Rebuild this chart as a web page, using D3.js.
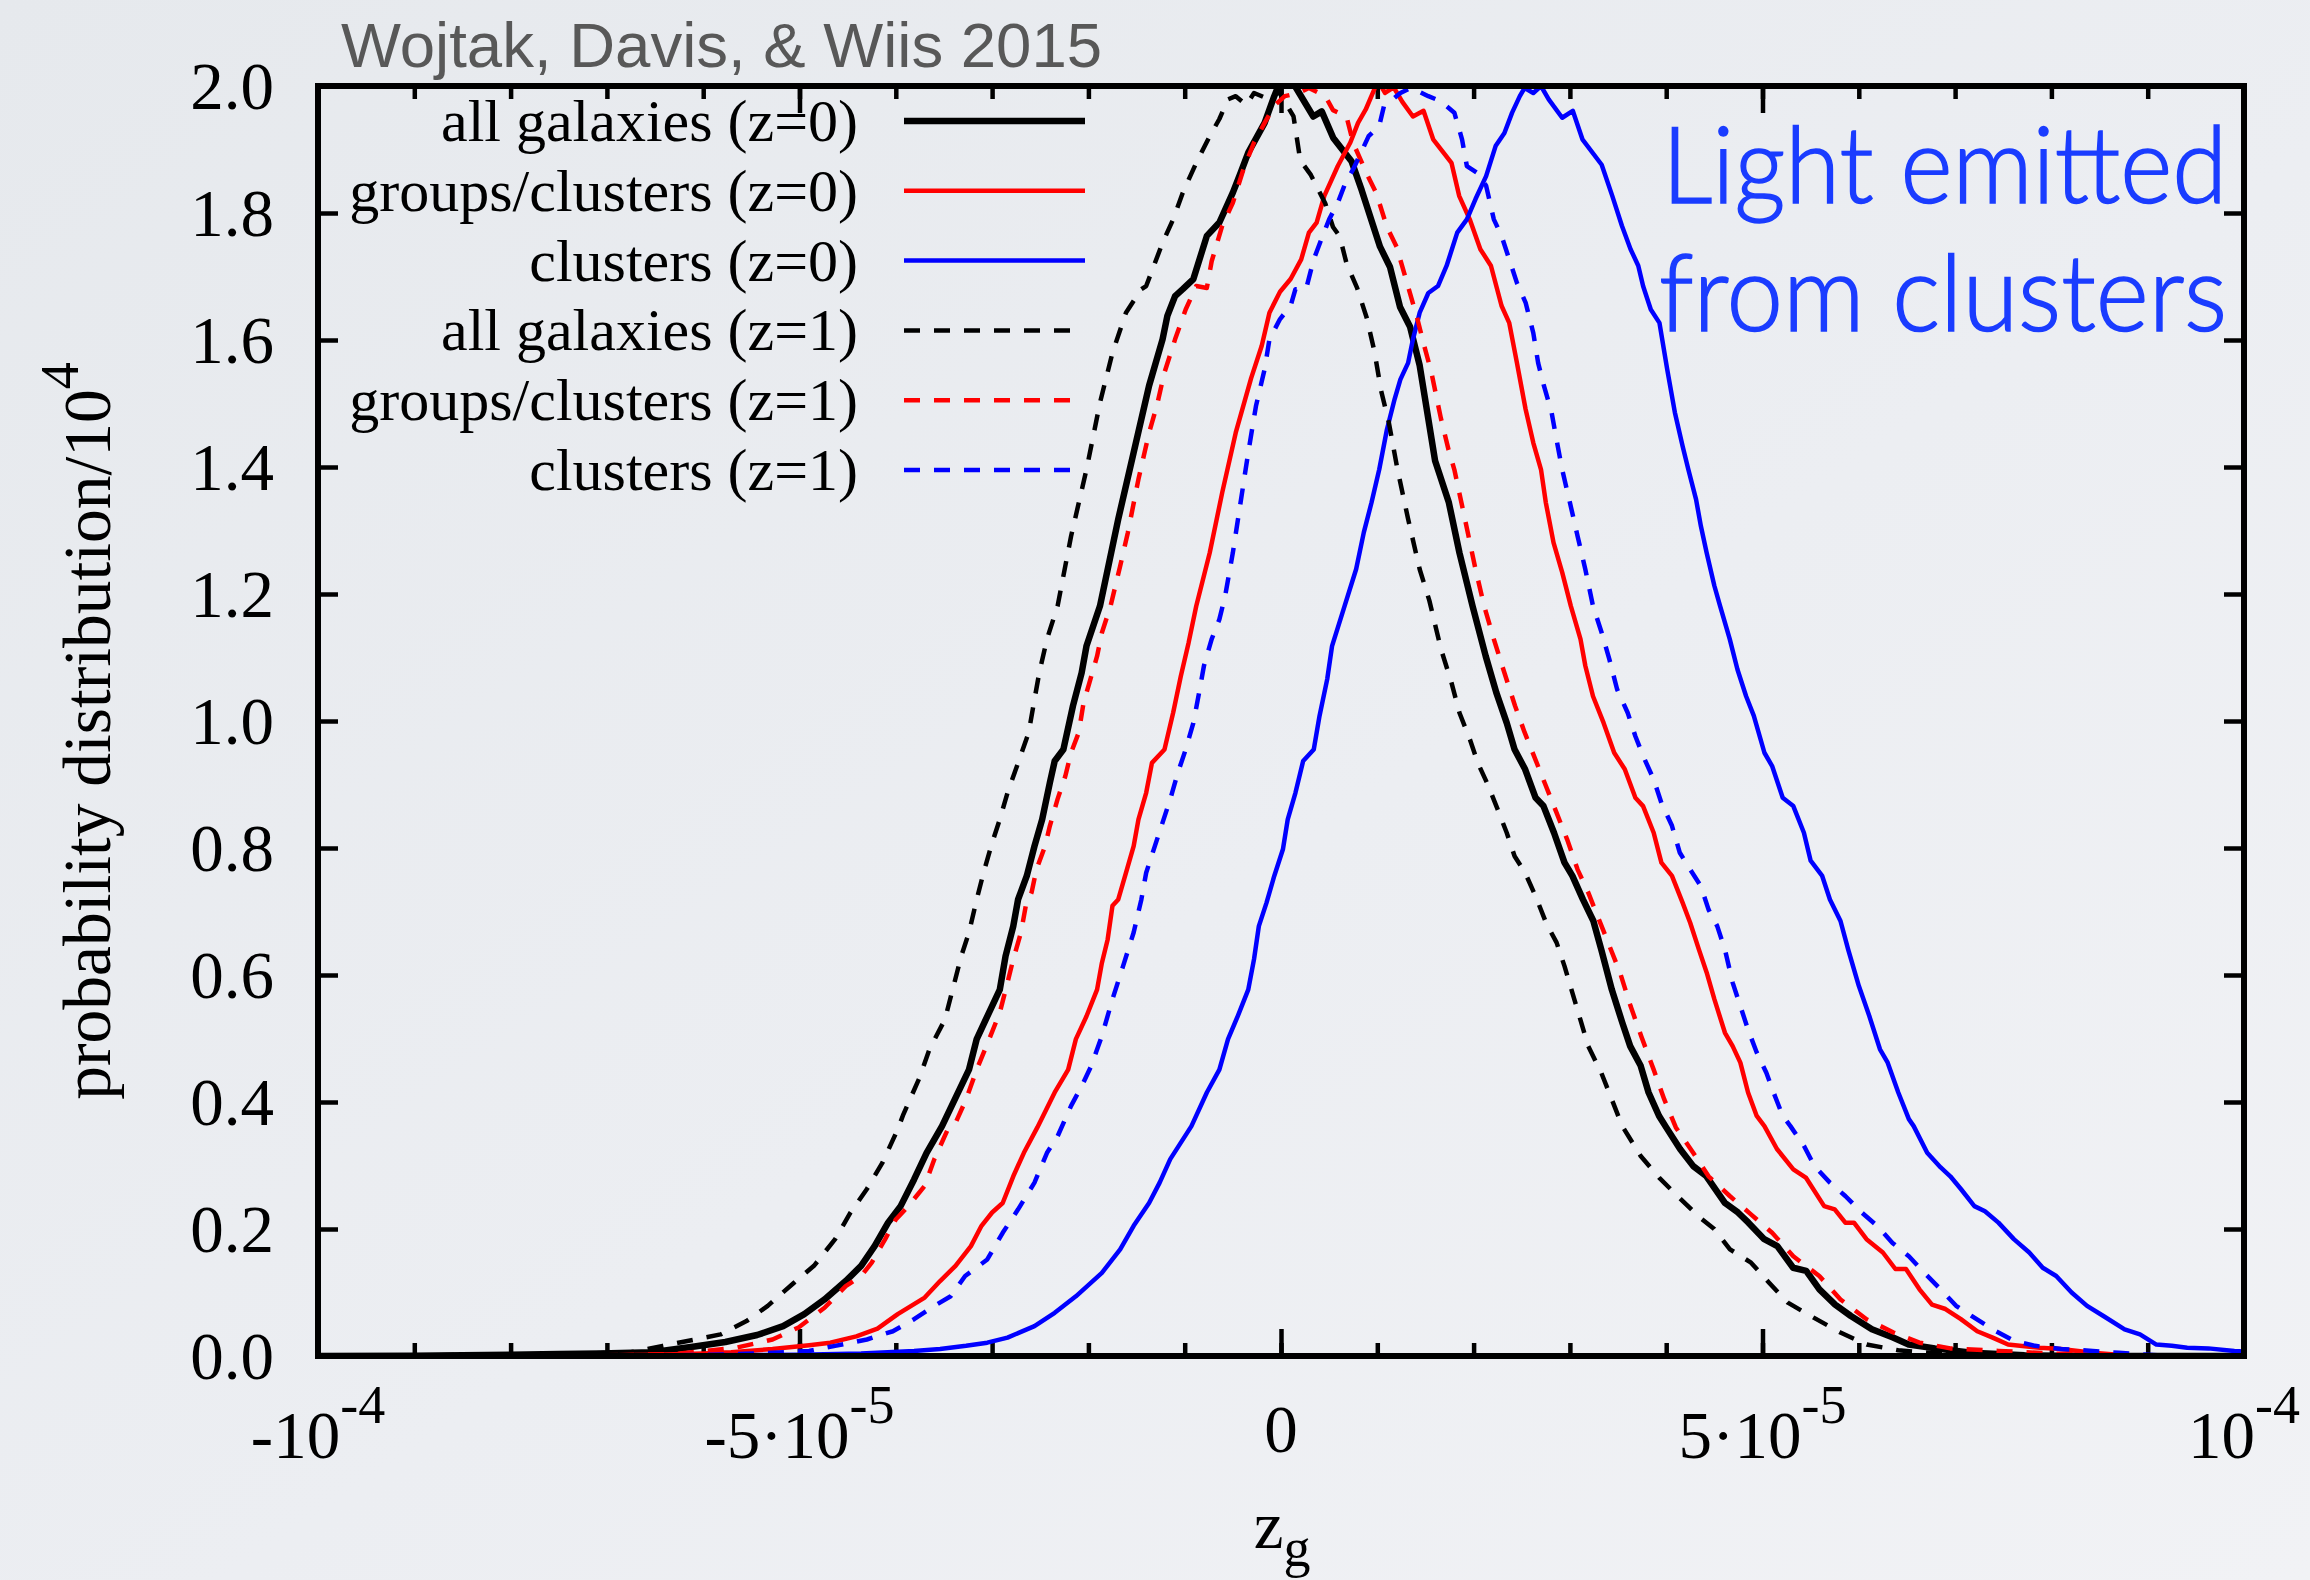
<!DOCTYPE html>
<html>
<head>
<meta charset="utf-8">
<script src="https://cdn.jsdelivr.net/npm/d3@7"></script>
<style>
  html, body { margin: 0; padding: 0; overflow: hidden; }
  svg { display: block; }
</style>
</head>
<body>
<svg id="chart" width="2310" height="1580"></svg>
<script>
// Gravitational redshift distributions. Points are [z_g / 1e-5, probability distribution / 1e4].
const ZG_UNIT = 1e-5;

const allGalaxiesZ0 = [
  [-10,0],[-9,0.0005],[-8,0.002],[-7.5,0.003],[-7.07,0.004],[-6.53,0.006],[-6.09,0.015],[-5.77,0.022],
  [-5.44,0.033],[-5.17,0.047],[-4.95,0.066],[-4.74,0.089],[-4.52,0.118],[-4.36,0.142],[-4.22,0.173],
  [-4.08,0.21],[-3.95,0.236],[-3.81,0.278],[-3.68,0.32],[-3.52,0.362],[-3.24,0.451],[-3.16,0.499],
  [-3.05,0.535],[-2.92,0.577],[-2.86,0.63],[-2.78,0.677],[-2.73,0.719],[-2.64,0.756],[-2.56,0.803],
  [-2.48,0.845],[-2.40,0.903],[-2.35,0.937],[-2.26,0.955],[-2.16,1.024],[-2.07,1.076],[-2.02,1.118],
  [-1.88,1.181],[-1.69,1.318],[-1.53,1.423],[-1.37,1.528],[-1.23,1.601],[-1.18,1.638],[-1.10,1.669],
  [-1.02,1.680],[-0.91,1.696],[-0.77,1.764],[-0.64,1.785],[-0.50,1.832],[-0.42,1.863],[-0.34,1.895],
  [-0.17,1.942],[-0.07,1.984],[0.0,2.01],[0.145,2.0],[0.335,1.952],[0.423,1.960],[0.543,1.918],
  [0.734,1.881],[0.838,1.836],[1.028,1.747],[1.132,1.715],[1.236,1.652],[1.34,1.621],[1.44,1.56],
  [1.60,1.41],[1.743,1.344],[1.853,1.265],[1.989,1.181],[2.126,1.102],[2.235,1.045],[2.344,0.997],
  [2.426,0.955],[2.535,0.924],[2.644,0.879],[2.726,0.866],[2.835,0.824],[2.944,0.777],[3.026,0.756],
  [3.135,0.719],[3.244,0.685],[3.326,0.640],[3.435,0.577],[3.544,0.525],[3.626,0.488],[3.735,0.457],
  [3.817,0.415],[3.926,0.378],[4.0,0.36],[4.144,0.326],[4.281,0.299],[4.418,0.283],[4.609,0.241],
  [4.745,0.226],[4.854,0.210],[5.018,0.184],[5.154,0.173],[5.318,0.139],[5.454,0.134],[5.591,0.105],
  [5.754,0.081],[5.918,0.063],[6.136,0.042],[6.355,0.029],[6.518,0.018],[6.791,0.012],[7.174,0.005],
  [7.72,0.001],[8.5,0],[10,0]
];

const groupsClustersZ0 = [
  [-10,0],[-7,0.001],[-6.5,0.002],[-6.0,0.004],[-5.71,0.006],[-5.28,0.011],[-4.90,0.017],[-4.68,0.021],
  [-4.41,0.031],[-4.19,0.043],[-3.98,0.066],[-3.70,0.092],[-3.54,0.118],[-3.38,0.142],[-3.22,0.173],
  [-3.11,0.205],[-3.00,0.226],[-2.89,0.241],[-2.78,0.283],[-2.67,0.320],[-2.53,0.36],[-2.35,0.415],
  [-2.21,0.451],[-2.13,0.499],[-2.02,0.535],[-1.91,0.577],[-1.86,0.619],[-1.80,0.656],[-1.75,0.709],
  [-1.69,0.719],[-1.61,0.761],[-1.53,0.803],[-1.48,0.845],[-1.40,0.887],[-1.34,0.934],[-1.21,0.955],
  [-1.12,1.013],[-1.04,1.071],[-0.96,1.123],[-0.88,1.181],[-0.74,1.265],[-0.61,1.360],[-0.47,1.454],
  [-0.31,1.540],[-0.20,1.591],[-0.12,1.643],[-0.01,1.676],[0.10,1.696],[0.21,1.727],[0.29,1.769],
  [0.37,1.785],[0.45,1.827],[0.59,1.874],[0.72,1.911],[0.80,1.942],[0.88,1.963],[0.97,1.995],
  [1.0,2.01],[1.08,1.989],[1.17,1.998],[1.26,1.975],[1.37,1.952],[1.48,1.961],[1.58,1.916],[1.77,1.879],
  [1.85,1.827],[1.96,1.790],[2.07,1.743],[2.18,1.717],[2.29,1.654],[2.37,1.627],[2.45,1.564],
  [2.54,1.491],[2.62,1.438],[2.70,1.396],[2.75,1.344],[2.83,1.281],[2.92,1.234],[3.01,1.181],
  [3.11,1.129],[3.16,1.087],[3.24,1.039],[3.35,0.997],[3.46,0.950],[3.57,0.924],[3.68,0.879],
  [3.76,0.866],[3.87,0.824],[3.95,0.777],[4.06,0.756],[4.17,0.714],[4.25,0.682],[4.34,0.640],
  [4.42,0.604],[4.50,0.562],[4.61,0.509],[4.69,0.488],[4.77,0.462],[4.85,0.415],[4.94,0.378],
  [5.02,0.362],[5.15,0.326],[5.32,0.294],[5.45,0.281],[5.64,0.236],[5.75,0.231],[5.86,0.210],
  [5.95,0.210],[6.08,0.184],[6.25,0.163],[6.38,0.137],[6.49,0.137],[6.63,0.105],[6.76,0.081],
  [6.90,0.074],[7.06,0.058],[7.23,0.039],[7.39,0.029],[7.55,0.018],[7.88,0.013],[8.10,0.011],
  [8.43,0.005],[8.75,0.001],[10,0]
];

const clustersZ0 = [
  [-10,0],[-6,0.001],[-5.0,0.002],[-4.36,0.004],[-3.81,0.008],[-3.54,0.011],[-3.27,0.016],[-3.05,0.021],
  [-2.84,0.029],[-2.56,0.047],[-2.35,0.068],[-2.13,0.094],[-1.86,0.131],[-1.67,0.168],[-1.53,0.205],
  [-1.37,0.241],[-1.26,0.273],[-1.15,0.310],[-1.04,0.336],[-0.93,0.362],[-0.77,0.415],[-0.64,0.451],
  [-0.55,0.499],[-0.45,0.535],[-0.34,0.577],[-0.28,0.625],[-0.23,0.677],[-0.15,0.714],[-0.07,0.756],
  [0.02,0.798],[0.07,0.845],[0.15,0.887],[0.23,0.937],[0.34,0.955],[0.40,1.008],[0.48,1.066],
  [0.53,1.118],[0.66,1.181],[0.78,1.239],[0.86,1.297],[0.94,1.344],[1.02,1.396],[1.10,1.459],
  [1.18,1.507],[1.24,1.538],[1.32,1.564],[1.37,1.601],[1.44,1.643],[1.53,1.674],[1.63,1.685],
  [1.72,1.717],[1.83,1.769],[1.93,1.790],[2.02,1.822],[2.13,1.858],[2.23,1.906],[2.32,1.926],
  [2.40,1.958],[2.48,1.984],[2.53,1.997],[2.62,1.989],[2.70,2.0],[2.78,1.979],[2.92,1.950],
  [3.03,1.961],[3.13,1.916],[3.33,1.876],[3.44,1.827],[3.54,1.780],[3.63,1.743],[3.71,1.717],
  [3.76,1.685],[3.84,1.648],[3.93,1.627],[4.01,1.554],[4.09,1.486],[4.17,1.433],[4.23,1.396],
  [4.31,1.349],[4.36,1.307],[4.42,1.265],[4.50,1.213],[4.56,1.181],[4.66,1.129],[4.74,1.081],
  [4.83,1.039],[4.91,1.008],[5.02,0.950],[5.10,0.929],[5.21,0.879],[5.32,0.866],[5.43,0.824],
  [5.50,0.780],[5.62,0.756],[5.70,0.719],[5.81,0.685],[5.89,0.640],[6.00,0.583],[6.11,0.535],
  [6.22,0.483],[6.30,0.462],[6.41,0.415],[6.52,0.373],[6.57,0.362],[6.71,0.320],[6.85,0.297],
  [6.95,0.283],[7.06,0.263],[7.20,0.236],[7.31,0.228],[7.45,0.210],[7.61,0.184],[7.77,0.163],
  [7.91,0.139],[8.05,0.126],[8.21,0.100],[8.37,0.079],[8.54,0.063],[8.76,0.042],[8.92,0.034],
  [9.09,0.018],[9.25,0.016],[9.41,0.013],[9.63,0.012],[9.90,0.008],[10,0.007]
];

const allGalaxiesZ1 = [
  [-10,0],[-9,0.001],[-8,0.002],[-7.2,0.004],[-6.75,0.006],[-6.42,0.016],[-6.15,0.024],[-5.82,0.034],
  [-5.55,0.055],[-5.33,0.079],[-5.06,0.115],[-4.85,0.142],[-4.63,0.184],[-4.47,0.226],[-4.30,0.263],
  [-4.14,0.304],[-3.98,0.357],[-3.92,0.381],[-3.76,0.436],[-3.65,0.483],[-3.49,0.530],[-3.41,0.577],
  [-3.32,0.630],[-3.24,0.667],[-3.16,0.719],[-3.08,0.766],[-3.00,0.808],[-2.92,0.845],[-2.84,0.887],
  [-2.73,0.934],[-2.62,0.982],[-2.56,1.034],[-2.51,1.076],[-2.43,1.129],[-2.32,1.181],[-2.18,1.291],
  [-2.02,1.396],[-1.88,1.501],[-1.75,1.580],[-1.61,1.643],[-1.45,1.680],[-1.40,1.685],[-1.23,1.753],
  [-1.12,1.790],[-1.02,1.832],[-0.88,1.879],[-0.74,1.921],[-0.64,1.948],[-0.55,1.979],[-0.47,1.984],
  [-0.36,1.970],[-0.28,1.989],[-0.17,1.982],[-0.07,2.0],[0.01,1.983],[0.13,1.952],[0.20,1.883],
  [0.31,1.86],[0.46,1.815],[0.54,1.778],[0.61,1.763],[0.68,1.721],[0.79,1.682],[0.89,1.635],
  [0.97,1.582],[1.04,1.52],[1.12,1.47],[1.21,1.396],[1.32,1.318],[1.44,1.239],[1.54,1.19],
  [1.662,1.113],[1.771,1.060],[1.853,1.013],[1.962,0.971],[2.044,0.934],[2.153,0.898],[2.262,0.856],
  [2.344,0.824],[2.426,0.787],[2.535,0.761],[2.644,0.724],[2.753,0.682],[2.862,0.651],[2.944,0.614],
  [3.026,0.572],[3.108,0.530],[3.190,0.488],[3.326,0.446],[3.435,0.404],[3.544,0.362],[3.735,0.315],
  [3.926,0.281],[4.117,0.252],[4.335,0.220],[4.499,0.200],[4.662,0.168],[4.881,0.147],[5.071,0.115],
  [5.263,0.084],[5.536,0.060],[5.809,0.037],[6.082,0.018],[6.409,0.009],[6.736,0.005],[7.5,0.001],
  [10,0]
];

const groupsClustersZ1 = [
  [-10,0],[-7,0.001],[-6.3,0.003],[-5.66,0.013],[-5.28,0.026],[-5.01,0.045],[-4.74,0.076],[-4.52,0.110],
  [-4.36,0.126],[-4.25,0.147],[-4.11,0.184],[-4.00,0.215],[-3.87,0.236],[-3.70,0.268],[-3.60,0.310],
  [-3.46,0.357],[-3.38,0.367],[-3.27,0.404],[-3.16,0.451],[-3.03,0.499],[-2.92,0.541],[-2.84,0.588],
  [-2.78,0.625],[-2.70,0.667],[-2.65,0.709],[-2.59,0.730],[-2.54,0.766],[-2.45,0.803],[-2.40,0.835],
  [-2.32,0.877],[-2.24,0.913],[-2.18,0.950],[-2.10,0.982],[-2.05,1.029],[-1.99,1.060],[-1.91,1.102],
  [-1.86,1.139],[-1.77,1.181],[-1.67,1.244],[-1.59,1.297],[-1.48,1.381],[-1.37,1.454],[-1.29,1.496],
  [-1.21,1.549],[-1.10,1.601],[-0.99,1.648],[-0.88,1.685],[-0.77,1.682],[-0.72,1.724],[-0.61,1.780],
  [-0.50,1.816],[-0.39,1.869],[-0.28,1.911],[-0.17,1.942],[-0.07,1.969],[0.04,1.984],[0.18,1.989],
  [0.29,1.997],[0.46,1.984],[0.54,1.962],[0.68,1.952],[0.75,1.910],[0.89,1.862],[0.99,1.831],
  [1.10,1.778],[1.20,1.747],[1.31,1.689],[1.41,1.637],[1.48,1.595],[1.56,1.55],[1.66,1.477],
  [1.74,1.427],[1.80,1.396],[1.91,1.318],[2.02,1.239],[2.11,1.181],[2.21,1.129],[2.32,1.076],
  [2.43,1.024],[2.53,0.982],[2.64,0.940],[2.75,0.898],[2.86,0.856],[2.97,0.814],[3.08,0.766],
  [3.19,0.730],[3.30,0.688],[3.41,0.646],[3.52,0.604],[3.63,0.551],[3.74,0.504],[3.87,0.451],
  [3.98,0.404],[4.10,0.36],[4.28,0.320],[4.44,0.283],[4.66,0.252],[4.88,0.223],[5.10,0.194],
  [5.32,0.157],[5.59,0.126],[5.81,0.089],[6.08,0.058],[6.36,0.037],[6.63,0.021],[6.95,0.012],
  [7.45,0.008],[7.99,0.004],[8.7,0.001],[10,0]
];

const clustersZ1 = [
  [-10,0],[-6.5,0.0005],[-5.9,0.002],[-5.44,0.004],[-4.90,0.008],[-4.63,0.016],[-4.30,0.026],
  [-4.03,0.039],[-3.81,0.058],[-3.60,0.079],[-3.43,0.094],[-3.28,0.126],[-3.05,0.152],[-2.89,0.194],
  [-2.73,0.231],[-2.56,0.273],[-2.43,0.320],[-2.32,0.346],[-2.18,0.394],[-2.07,0.425],[-1.97,0.457],
  [-1.86,0.504],[-1.75,0.562],[-1.64,0.614],[-1.53,0.667],[-1.45,0.719],[-1.40,0.761],[-1.31,0.803],
  [-1.23,0.840],[-1.15,0.877],[-1.07,0.919],[-0.99,0.955],[-0.91,0.997],[-0.85,1.045],[-0.80,1.087],
  [-0.72,1.129],[-0.64,1.160],[-0.58,1.197],[-0.50,1.265],[-0.42,1.344],[-0.34,1.423],[-0.26,1.496],
  [-0.17,1.554],[-0.12,1.601],[-0.01,1.633],[0.10,1.654],[0.15,1.680],[0.26,1.680],[0.34,1.727],
  [0.42,1.759],[0.50,1.790],[0.59,1.816],[0.67,1.848],[0.75,1.869],[0.83,1.895],[0.91,1.921],
  [1.02,1.937],[1.07,1.969],[1.16,1.979],[1.24,1.989],[1.35,1.997],[1.45,1.99],[1.53,1.984],
  [1.66,1.976],[1.80,1.958],[1.88,1.916],[1.93,1.874],[2.04,1.863],[2.13,1.843],[2.21,1.790],
  [2.29,1.764],[2.37,1.727],[2.45,1.690],[2.54,1.659],[2.62,1.611],[2.67,1.564],[2.73,1.528],
  [2.81,1.486],[2.86,1.444],[2.92,1.396],[3.00,1.344],[3.08,1.291],[3.16,1.239],[3.24,1.181],
  [3.33,1.139],[3.41,1.097],[3.49,1.050],[3.60,1.013],[3.68,0.976],[3.76,0.945],[3.87,0.908],
  [3.95,0.871],[4.06,0.835],[4.14,0.793],[4.25,0.766],[4.36,0.740],[4.44,0.703],[4.53,0.677],
  [4.61,0.640],[4.69,0.588],[4.77,0.551],[4.85,0.514],[4.94,0.478],[5.04,0.446],[5.13,0.409],
  [5.21,0.378],[5.29,0.362],[5.43,0.331],[5.54,0.299],[5.70,0.273],[5.86,0.252],[6.03,0.226],
  [6.19,0.205],[6.35,0.178],[6.52,0.157],[6.68,0.131],[6.85,0.105],[7.01,0.079],[7.17,0.063],
  [7.39,0.042],[7.61,0.024],[7.83,0.016],[8.10,0.011],[8.43,0.008],[8.70,0.005],[9.1,0.001],[10,0]
];

const seriesLabels = [
  "all galaxies (z=0)", "groups/clusters (z=0)", "clusters (z=0)",
  "all galaxies (z=1)", "groups/clusters (z=1)", "clusters (z=1)"
];

const yTickValues = [0, 0.2, 0.4, 0.6, 0.8, 1.0, 1.2, 1.4, 1.6, 1.8, 2.0];
const xMinorTickValues = d3.range(-10, 11).map(k => k * 1e-5);
const xMajorTickValues = [-1e-4, -5e-5, 0, 5e-5, 1e-4];
// tick label as [mantissa text, exponent text]
const xTickLabels = [["-10", "-4"], ["-5·10", "-5"], ["0", ""], ["5·10", "-5"], ["10", "-4"]];

const titleText = "Wojtak, Davis, & Wiis 2015";
const noteLines = ["Light emitted", "from clusters"];

// ---- layout ----
const W = 2310, H = 1580;
const plot = { left: 318, right: 2244, top: 86, bottom: 1356 };
const serif = "'Liberation Serif', 'Times New Roman', Times, serif";

const svg = d3.select("#chart");

// soft slide-style backdrop
const defs = svg.append("defs");
const grad = defs.append("linearGradient").attr("id", "bg")
  .attr("x1", "0").attr("y1", "0").attr("x2", "1").attr("y2", "1");
grad.append("stop").attr("offset", "0%").attr("stop-color", "#e6e9ed");
grad.append("stop").attr("offset", "55%").attr("stop-color", "#eceef2");
grad.append("stop").attr("offset", "100%").attr("stop-color", "#f1f2f5");
svg.append("rect").attr("width", W).attr("height", H).attr("fill", "url(#bg)");

defs.append("clipPath").attr("id", "plotClip")
  .append("rect")
  .attr("x", plot.left).attr("y", plot.top)
  .attr("width", plot.right - plot.left).attr("height", plot.bottom - plot.top);

const x = d3.scaleLinear().domain([-1e-4, 1e-4]).range([plot.left, plot.right]);
const y = d3.scaleLinear().domain([0, 2]).range([plot.bottom, plot.top]);

// ---- axes (ticks point into the frame) ----
function styleTicks(g, width) {
  g.select(".domain").remove();
  g.selectAll(".tick line").attr("stroke", "#000").attr("stroke-width", width);
}

svg.append("g").attr("transform", `translate(0,${plot.bottom})`)
  .call(d3.axisBottom(x).tickValues(xMinorTickValues).tickSize(-13).tickFormat(""))
  .call(g => styleTicks(g, 4.5));
svg.append("g").attr("transform", `translate(0,${plot.bottom})`)
  .call(d3.axisBottom(x).tickValues(xMajorTickValues).tickSize(-27).tickFormat(""))
  .call(g => styleTicks(g, 4.5));
svg.append("g").attr("transform", `translate(0,${plot.top})`)
  .call(d3.axisTop(x).tickValues(xMinorTickValues).tickSize(-13).tickFormat(""))
  .call(g => styleTicks(g, 4.5));
svg.append("g").attr("transform", `translate(0,${plot.top})`)
  .call(d3.axisTop(x).tickValues(xMajorTickValues).tickSize(-27).tickFormat(""))
  .call(g => styleTicks(g, 4.5));

const yAxisLeft = svg.append("g").attr("transform", `translate(${plot.left},0)`)
  .call(d3.axisLeft(y).tickValues(yTickValues).tickSize(-20).tickPadding(44)
    .tickFormat(d3.format(".1f")))
  .call(g => styleTicks(g, 4.5));
yAxisLeft.selectAll(".tick text")
  .attr("font-family", serif).attr("font-size", 67).attr("fill", "#000")
  .attr("dy", "0.33em");

svg.append("g").attr("transform", `translate(${plot.right},0)`)
  .call(d3.axisRight(y).tickValues(yTickValues).tickSize(-20).tickFormat(""))
  .call(g => styleTicks(g, 4.5));

// x tick labels with superscript exponents
const xLab = svg.append("g").attr("font-family", serif).attr("fill", "#000");
xMajorTickValues.forEach((v, i) => {
  const [mant, expo] = xTickLabels[i];
  const t = xLab.append("text")
    .attr("x", x(v)).attr("y", expo ? 1458 : 1452)
    .attr("text-anchor", "middle").attr("font-size", 67);
  t.append("tspan").text(mant);
  if (expo) t.append("tspan").attr("dy", -35).attr("font-size", 54).text(expo);
});

// ---- curves ----
const series = [
  { data: allGalaxiesZ0,    color: "#000000", width: 6.5, dash: null },
  { data: groupsClustersZ0, color: "#ff0000", width: 4.5, dash: null },
  { data: clustersZ0,       color: "#0000ff", width: 4.5, dash: null },
  { data: allGalaxiesZ1,    color: "#000000", width: 4.5, dash: "16,14" },
  { data: groupsClustersZ1, color: "#ff0000", width: 4.5, dash: "16,14" },
  { data: clustersZ1,       color: "#0000ff", width: 4.5, dash: "16,14" }
];

const line = d3.line()
  .x(d => x(d[0] * ZG_UNIT))
  .y(d => y(d[1]));

const curves = svg.append("g").attr("clip-path", "url(#plotClip)");
series.forEach(s => {
  curves.append("path")
    .attr("d", line(s.data))
    .attr("fill", "none")
    .attr("stroke", s.color)
    .attr("stroke-width", s.width)
    .attr("stroke-linejoin", "round")
    .attr("stroke-dasharray", s.dash);
});

// ---- frame ----
svg.append("rect")
  .attr("x", plot.left).attr("y", plot.top)
  .attr("width", plot.right - plot.left).attr("height", plot.bottom - plot.top)
  .attr("fill", "none").attr("stroke", "#000").attr("stroke-width", 6);

// ---- legend ----
const legend = svg.append("g");
series.forEach((s, i) => {
  const ly = 121 + i * 69.8;
  legend.append("text")
    .attr("x", 858).attr("y", ly + 20)
    .attr("text-anchor", "end")
    .attr("font-family", serif).attr("font-size", 60).attr("fill", "#000")
    .text(seriesLabels[i]);
  legend.append("line")
    .attr("x1", 904).attr("x2", s.dash ? 1070 : 1085).attr("y1", ly).attr("y2", ly)
    .attr("stroke", s.color).attr("stroke-width", s.width)
    .attr("stroke-dasharray", s.dash);
});

// ---- axis titles ----
const yTitle = svg.append("text")
  .attr("transform", `translate(110,731) rotate(-90)`)
  .attr("text-anchor", "middle")
  .attr("font-family", serif).attr("font-size", 67.5).attr("fill", "#000");
yTitle.append("tspan").text("probability distribution/10");
yTitle.append("tspan").attr("dy", -32).attr("font-size", 54).text("4");

const xTitle = svg.append("text")
  .attr("x", 1282).attr("y", 1548)
  .attr("text-anchor", "middle")
  .attr("font-family", serif).attr("font-size", 67).attr("fill", "#000");
xTitle.append("tspan").text("z");
xTitle.append("tspan").attr("dy", 18).attr("font-size", 54).text("g");

// ---- title and annotation ----
svg.append("text")
  .attr("x", 341).attr("y", 67)
  .attr("font-family", "'Liberation Sans', Arial, Helvetica, sans-serif")
  .attr("font-size", 63.5).attr("fill", "#585858")
  .text(titleText);

const note = svg.append("g")
  .attr("font-family", "Lato, 'Open Sans', sans-serif")
  .attr("font-weight", 300)
  .attr("font-size", 106).attr("fill", "#1a3cff")
  .attr("stroke", "#1a3cff").attr("stroke-width", 1.6);
note.append("text").attr("x", 1662).attr("y", 203)
  .attr("textLength", 565).attr("lengthAdjust", "spacingAndGlyphs")
  .text(noteLines[0]);
note.append("text").attr("x", 1659).attr("y", 331)
  .attr("textLength", 568).attr("lengthAdjust", "spacingAndGlyphs")
  .text(noteLines[1]);
</script>
</body>
</html>
